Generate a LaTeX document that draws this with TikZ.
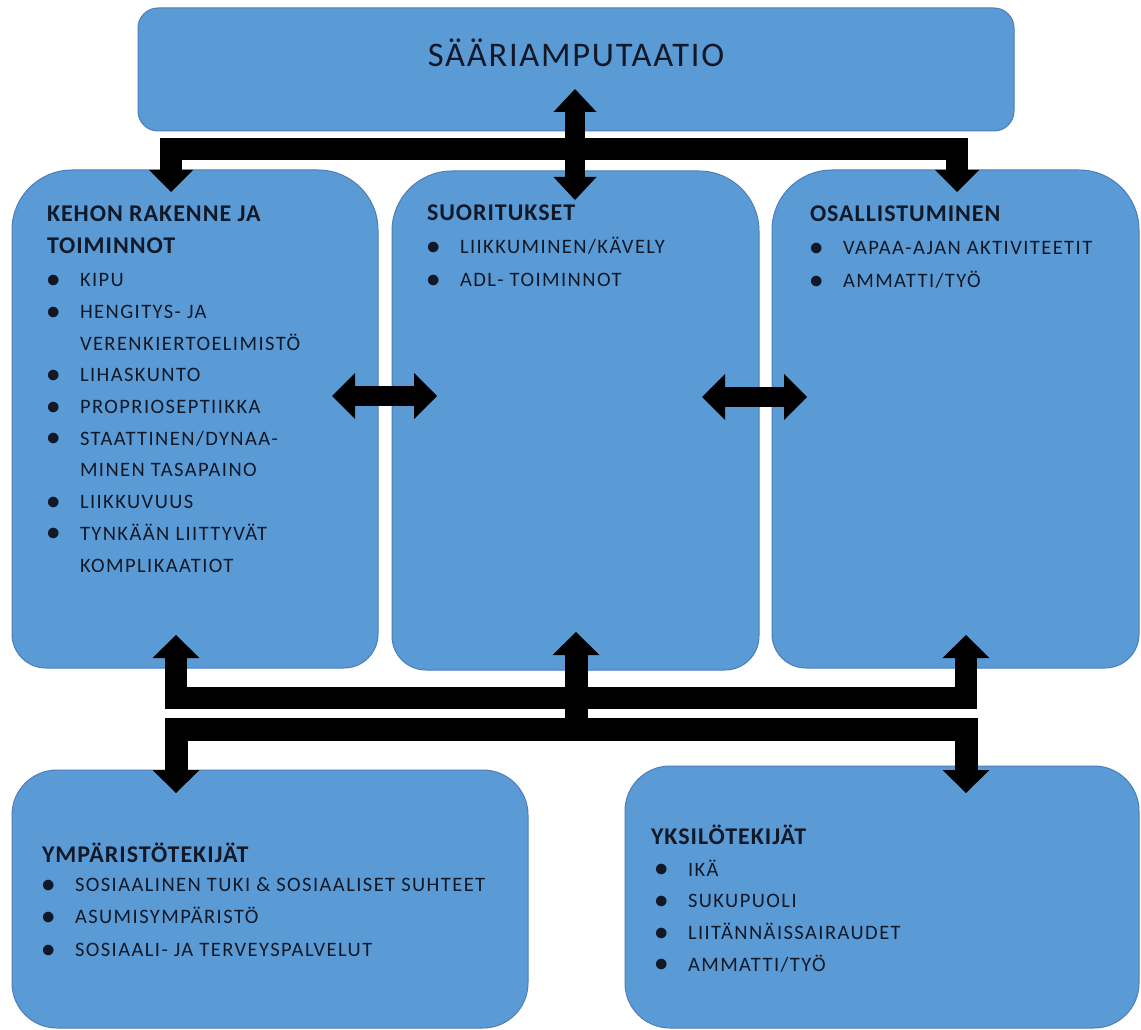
\documentclass[tikz,border=0pt]{standalone}
\usepackage{fontspec}
\setmainfont{Carlito}
\newfontfamily\bodyfont[LetterSpace=7]{Carlito}
\newfontfamily\headfont[LetterSpace=4]{Carlito}
\newfontfamily\titlefont[LetterSpace=5]{Carlito}
\usetikzlibrary{arrows.meta}
\definecolor{boxblue}{HTML}{5B9BD5}
\definecolor{boxedge}{HTML}{4A7EBB}
\definecolor{txtc}{HTML}{111827}
\newcommand\itm{\makebox[33pt][l]{\raisebox{-0.6pt}{\bfseries\fontsize{25}{25}\selectfont •}}}
\newcommand\hdf{\fontsize{24}{32}\selectfont\headfont\bfseries}
\newcommand\bdf[1]{\bodyfont\mdseries\fontsize{20.5}{#1}\selectfont}
\tikzset{
  area/.style={rectangle, inner sep=0pt, outer sep=0pt, draw=none},
  boxfill/.style={fill=boxblue, draw=boxedge, line width=1pt},
  blk/.style={draw=black, line join=miter, line cap=butt},
  txtnode/.style={inner sep=0pt, outer sep=0pt, anchor=base west, text=txtc},
}
\begin{document}
\begin{tikzpicture}[x=1pt,y=-1pt]
\useasboundingbox (0,0) rectangle (1141,1030);

% areas of the boxes
\node[area, minimum width=876pt, minimum height=123pt] (top) at (576,69.5) {};
\node[area, minimum width=366pt, minimum height=498pt] (kehon) at (195,419) {};
\node[area, minimum width=367pt, minimum height=499pt] (suor) at (575.5,420.5) {};
\node[area, minimum width=367pt, minimum height=498pt] (osal) at (955.5,419) {};
\node[area, minimum width=516pt, minimum height=258pt] (ymp) at (270,899) {};
\node[area, minimum width=514pt, minimum height=262pt] (yks) at (882,897) {};

% box shapes
\draw[boxfill, rounded corners=20pt] (top.north west) rectangle (top.south east);
\foreach \b in {kehon,suor,osal}{
  \draw[boxfill] (\b.west) [rounded corners=60pt] |- (\b.north) -| (\b.east)
     [rounded corners=34pt] |- (\b.south) -| (\b.west) -- cycle;
}
\foreach \b in {ymp,yks}{
  \draw[boxfill, rounded corners=45pt] (\b.north west) rectangle (\b.south east);
}

% connector points
\coordinate (t1) at (171,192);
\coordinate (t1b) at (171,149.5);
\coordinate (t2b) at (957,149.5);
\coordinate (t2) at (957,192);
\coordinate (m1) at (575,89);
\coordinate (m2) at (575,200);
\coordinate (u1) at (176,635);
\coordinate (u1b) at (176,698);
\coordinate (u2b) at (966,698);
\coordinate (u2) at (966,635);
\coordinate (d1) at (176,793);
\coordinate (d1b) at (176,729.5);
\coordinate (d2b) at (966,729.5);
\coordinate (d2) at (966,793);
\coordinate (c0) at (576,741);
\coordinate (c1) at (576,632);
\coordinate (h1) at (332,396);
\coordinate (h2) at (437,396);
\coordinate (h3) at (702,397);
\coordinate (h4) at (807,397);

% block arrows
\draw[blk, line width=22pt, {Triangle[width=44pt,length=22pt,line width=0pt]}-{Triangle[width=44pt,length=22pt,line width=0pt]}]
  (t1) -- (t1b) -- (t2b) -- (t2);
\draw[blk, line width=20pt, {Triangle[width=43pt,length=23pt,line width=0pt]}-{Triangle[width=43pt,length=23pt,line width=0pt]}]
  (m1) -- (m2);
\draw[blk, line width=22pt, {Triangle[width=47pt,length=23pt,line width=0pt]}-{Triangle[width=47pt,length=23pt,line width=0pt]}]
  (u1) -- (u1b) -- (u2b) -- (u2);
\draw[blk, line width=23pt, {Triangle[width=47pt,length=23pt,line width=0pt]}-{Triangle[width=47pt,length=23pt,line width=0pt]}]
  (d1) -- (d1b) -- (d2b) -- (d2);
\draw[blk, line width=23pt, -{Triangle[width=47pt,length=23pt,line width=0pt]}]
  (c0) -- (c1);
\draw[blk, line width=20pt, {Triangle[width=46pt,length=23pt,line width=0pt]}-{Triangle[width=46pt,length=23pt,line width=0pt]}]
  (h1) -- (h2);
\draw[blk, line width=20pt, {Triangle[width=46pt,length=23pt,line width=0pt]}-{Triangle[width=46pt,length=23pt,line width=0pt]}]
  (h3) -- (h4);

% texts
\node[txtnode, anchor=base] (ttl) at (576,67) {\titlefont\fontsize{34.5}{40}\selectfont SÄÄRIAMPUTAATIO};

\node[txtnode] (ktxt) at (47,221.4) {\parbox[t]{320pt}{\hdf KEHON RAKENNE JA\\TOIMINNOT\\[2pt]\bdf{31.7}%
\itm KIPU\\
\itm HENGITYS- JA\\
\hspace*{33pt}VERENKIERTOELIMISTÖ\\
\itm LIHASKUNTO\\
\itm PROPRIOSEPTIIKKA\\
\itm STAATTINEN/DYNAA-\\
\hspace*{33pt}MINEN TASAPAINO\\
\itm LIIKKUVUUS\\
\itm TYNKÄÄN LIITTYVÄT\\
\hspace*{33pt}KOMPLIKAATIOT}};

\node[txtnode] (stxt) at (427,220.5) {\parbox[t]{320pt}{\hdf SUORITUKSET\\\bdf{33}%
\itm LIIKKUMINEN/KÄVELY\\
\itm ADL- TOIMINNOT}};

\node[txtnode] (otxt) at (810,221.5) {\parbox[t]{325pt}{\hdf OSALLISTUMINEN\\\bdf{33}%
\itm VAPAA-AJAN AKTIVITEETIT\\
\itm AMMATTI/TYÖ}};

\node[txtnode] (ytxt) at (42,862.4) {\parbox[t]{480pt}{\hdf YMPÄRISTÖTEKIJÄT\\[-3.5pt]\bdf{32.5}%
\itm SOSIAALINEN TUKI \& SOSIAALISET SUHTEET\\
\itm ASUMISYMPÄRISTÖ\\
\itm SOSIAALI- JA TERVEYSPALVELUT}};

\node[txtnode] (itxt) at (651,844.4) {\parbox[t]{480pt}{\hdf YKSILÖTEKIJÄT\\\bdf{31.7}%
\hspace*{4pt}\itm IKÄ\\
\hspace*{4pt}\itm SUKUPUOLI\\
\hspace*{4pt}\itm LIITÄNNÄISSAIRAUDET\\
\hspace*{4pt}\itm AMMATTI/TYÖ}};
\end{tikzpicture}
\end{document}
